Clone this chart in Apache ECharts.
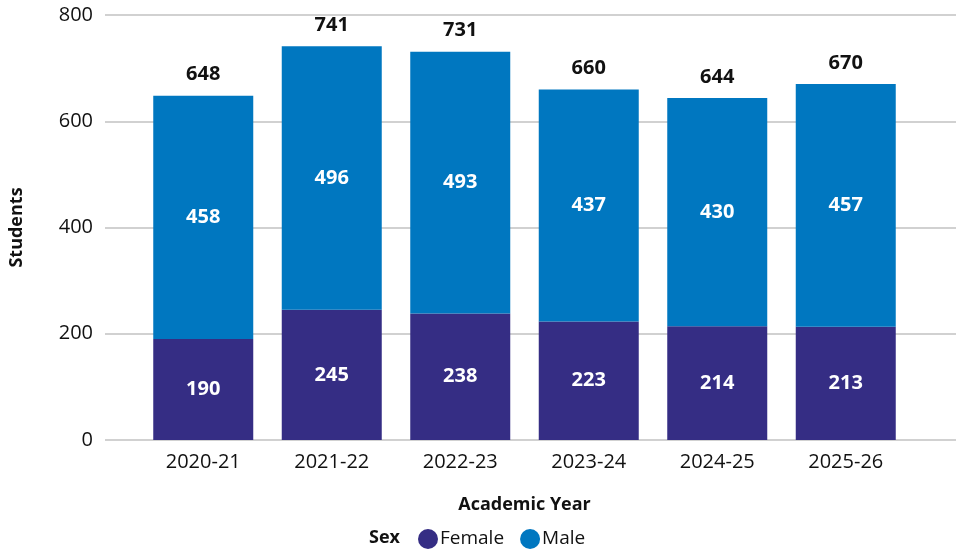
<!DOCTYPE html>
<html>
<head>
<meta charset="utf-8">
<script src="https://cdn.jsdelivr.net/npm/echarts@6/dist/echarts.min.js"></script>
<style>html,body{margin:0;padding:0;background:#fff}#c{width:960px;height:551px}</style>
</head>
<body>
<div id="c"></div>
<script>
var categories = ['2020-21','2021-22','2022-23','2023-24','2024-25','2025-26'];
var female = [190,245,238,223,214,213];
var male = [458,496,493,437,430,457];
var totals = [648,741,731,660,644,670];
var yTicks = [0,200,400,600,800];

var FONT = '"Open Sans", "Liberation Sans", Arial, sans-serif';
var chart = echarts.init(document.getElementById('c'));
chart.setOption({
  animation: false,
  textStyle: {fontFamily: FONT},
  grid: [
    {left: 101, right: 4, top: 15, bottom: 111},
    {left: 139, right: 50, top: 15, bottom: 111}
  ],
  legend: {
    data: ['Female','Male'],
    icon: 'circle',
    itemWidth: 20, itemHeight: 20, itemGap: 16,
    left: 413, top: 524,
    textStyle: {fontFamily: FONT, fontSize: 19, color: '#111', padding: [0,0,0,-3]}
  },
  graphic: [{
    type: 'text', x: 369, y: 538,
    style: {text: 'Sex', font: 'bold 18px ' + FONT, fill: '#111', verticalAlign: 'middle'}
  }],
  xAxis: [
    {type: 'category', gridIndex: 0, data: categories, show: false},
    {type: 'category', gridIndex: 1, data: categories,
     axisLine: {show: false}, axisTick: {show: false},
     axisLabel: {fontSize: 20, color: '#111', margin: 12, fontFamily: FONT},
     name: 'Academic Year', nameLocation: 'middle', nameGap: 56,
     nameTextStyle: {fontSize: 18, fontWeight: 'bold', color: '#111', fontFamily: FONT}}
  ],
  yAxis: [
    {type: 'value', gridIndex: 0, min: yTicks[0], max: yTicks[yTicks.length-1], interval: 200,
     axisLine: {show: false}, axisTick: {show: false},
     axisLabel: {fontSize: 20, color: '#111', margin: 12, fontFamily: FONT},
     splitLine: {lineStyle: {color: '#c2c2c2', width: 1.5}},
     name: 'Students', nameLocation: 'middle', nameGap: 79,
     nameTextStyle: {fontSize: 18, fontWeight: 'bold', color: '#111', fontFamily: FONT}},
    {type: 'value', gridIndex: 1, min: yTicks[0], max: yTicks[yTicks.length-1], interval: 200, show: false, splitLine: {show: false}}
  ],
  series: [
    {name: 'Female', type: 'bar', stack: 's', xAxisIndex: 1, yAxisIndex: 1, data: female,
     barWidth: 100, itemStyle: {color: '#352D84'},
     label: {show: true, position: 'inside', color: '#fff', fontWeight: 'bold', fontSize: 20, fontFamily: FONT}},
    {name: 'Male', type: 'bar', stack: 's', xAxisIndex: 1, yAxisIndex: 1, data: male,
     barWidth: 100, itemStyle: {color: '#0077C0'},
     label: {show: true, position: 'inside', color: '#fff', fontWeight: 'bold', fontSize: 20, fontFamily: FONT}},
    {name: 'Total', type: 'bar', stack: 's', xAxisIndex: 1, yAxisIndex: 1,
     data: totals.map(function(){return 0;}),
     barWidth: 100, itemStyle: {color: 'transparent'}, silent: true,
     label: {show: true, position: 'top', distance: 11, color: '#111', fontWeight: 'bold', fontSize: 20, fontFamily: FONT,
       formatter: function(p){return totals[p.dataIndex];}}}
  ]
});
</script>
</body>
</html>
